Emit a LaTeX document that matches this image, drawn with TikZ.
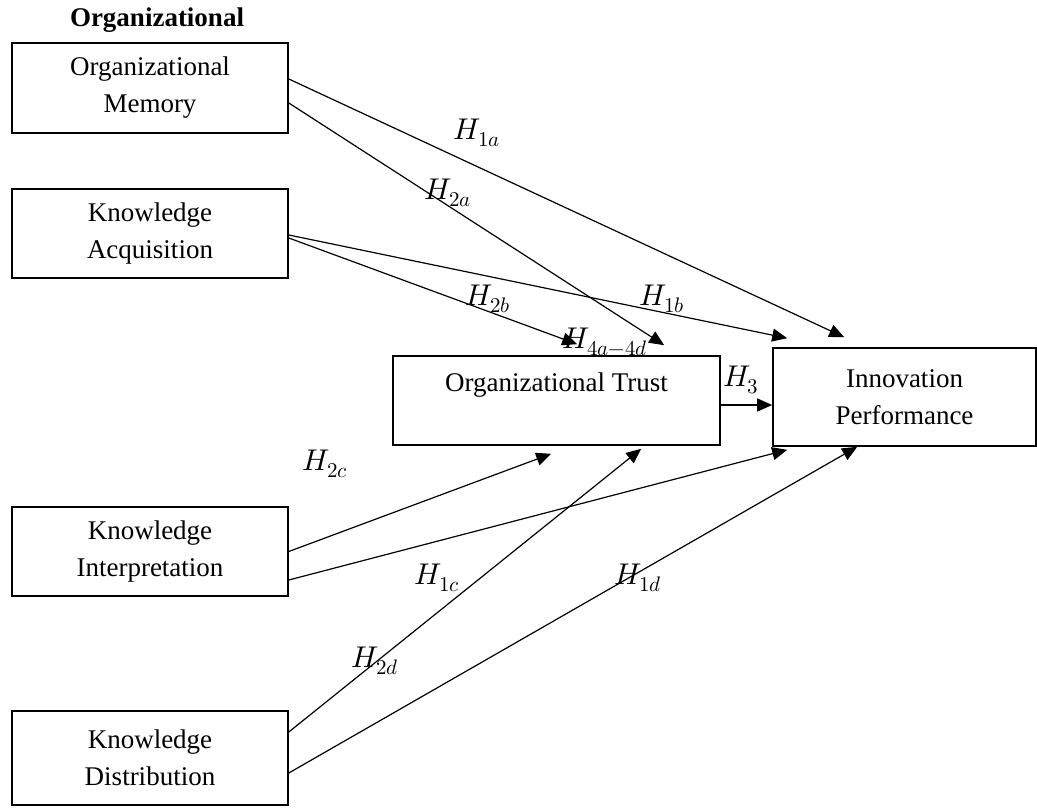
\documentclass[tikz,border=0pt]{standalone}
\usepackage{unicode-math}
\setmainfont{Liberation Serif}
\setmathfont{Latin Modern Math}
\usetikzlibrary{arrows.meta}
\begin{document}
\begin{tikzpicture}[x=1pt,y=-1pt,
  box/.style={draw, line width=1.6pt, align=center, font=\fontsize{27}{37}\selectfont, inner sep=0pt},
  conn/.style={line width=1.2pt, -{Triangle[length=15pt,width=13pt]}},
  hyp/.style={font=\fontsize{30}{34}\selectfont, inner sep=0pt}]
\useasboundingbox (0,0) rectangle (1037,810);
\node[font=\bfseries\fontsize{27}{32}\selectfont, anchor=base, inner sep=0pt] (title) at (157,27) {Organizational};
\node[box, minimum width=276pt, minimum height=90pt] (om) at (150,88) {Organizational\\Memory};
\node[box, minimum width=276pt, minimum height=89pt] (ka) at (150,233.5) {Knowledge\\Acquisition};
\node[box, minimum width=276pt, minimum height=89pt] (ki) at (150,551.5) {Knowledge\\Interpretation};
\node[box, minimum width=276pt, minimum height=94pt] (kd) at (150,758) {Knowledge\\Distribution};
\node[box, minimum width=327pt, minimum height=89pt] (ot) at (556.5,400.5) {Organizational Trust\\ \mbox{}};
\node[box, minimum width=263pt, minimum height=98pt] (ip) at (904.5,397) {Innovation\\Performance};

\draw[conn] ([yshift=9pt]om.east) -- ([xshift=72pt,yshift=10pt]ip.north west);
\draw[conn] ([yshift=-15pt]om.east) -- ([xshift=272pt,yshift=10pt]ot.north west);
\draw[conn] ([yshift=-1.5pt]ka.east) -- ([xshift=15pt,yshift=9pt]ip.north west);
\draw[conn] ([yshift=-4.5pt]ka.east) -- ([xshift=185pt,yshift=11pt]ot.north west);
\draw[conn] (ki.east) -- ([xshift=159pt,yshift=-8pt]ot.south west);
\draw[conn] ([yshift=-28.5pt]ki.east) -- ([xshift=15pt,yshift=-3pt]ip.south west);
\draw[conn] ([yshift=26pt]kd.east) -- ([xshift=249pt,yshift=-3pt]ot.south west);
\draw[conn] ([yshift=-15pt]kd.east) -- ([xshift=85pt]ip.south west);
\draw[conn] ([yshift=-4.5pt]ot.east) -- ([yshift=-8pt]ip.west);

\node[hyp] (h1a) at (477,133) {$H_{1a}$};
\node[hyp] (h2a) at (448,193) {$H_{2a}$};
\node[hyp] (h2b) at (488,299) {$H_{2b}$};
\node[hyp] (h1b) at (662,299) {$H_{1b}$};
\node[hyp] (h4) at (605,342) {$H_{4a-4d}$};
\node[hyp] (h3) at (741,380) {$H_{3}$};
\node[hyp] (h2c) at (325,464) {$H_{2c}$};
\node[hyp] (h1c) at (437,578) {$H_{1c}$};
\node[hyp] (h1d) at (638,578) {$H_{1d}$};
\node[hyp] (h2d) at (375,661) {$H_{2d}$};
\end{tikzpicture}
\end{document}
